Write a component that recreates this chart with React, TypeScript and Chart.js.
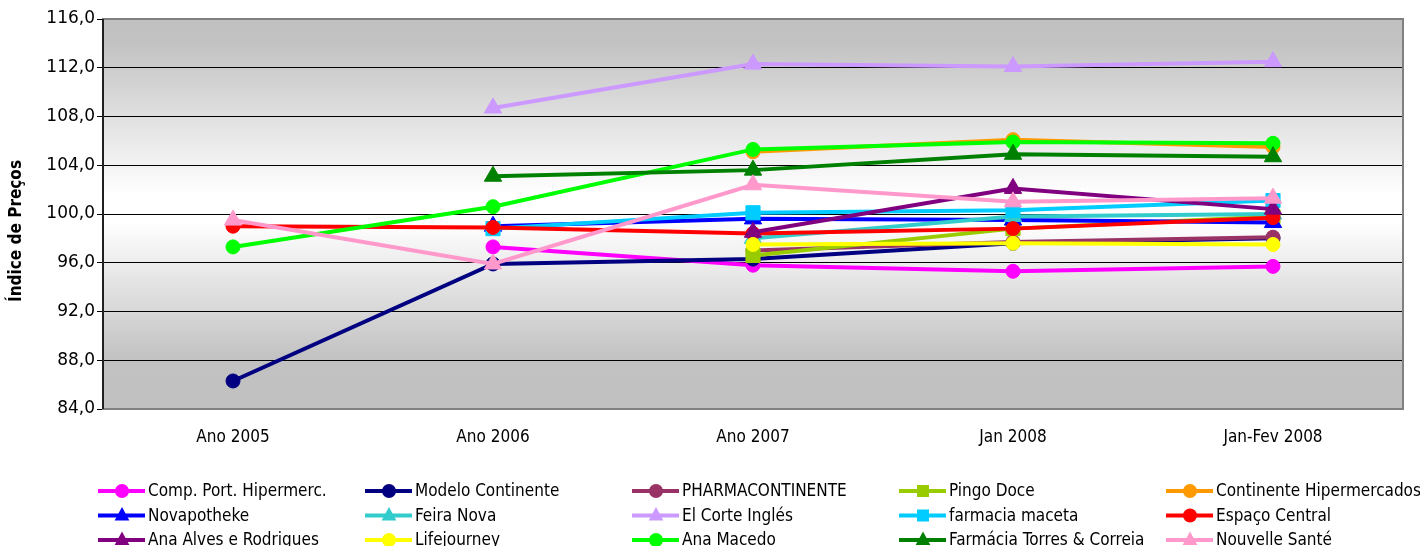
import React, { useEffect, useRef } from "react";
import { Chart, registerables } from "chart.js";

Chart.register(...registerables);

const categories = ["Ano 2005", "Ano 2006", "Ano 2007", "Jan 2008", "Jan-Fev 2008"];

const seriesNames = [
  "Comp. Port. Hipermerc.",
  "Modelo Continente",
  "PHARMACONTINENTE",
  "Pingo Doce",
  "Continente Hipermercados",
  "Novapotheke",
  "Feira Nova",
  "El Corte Inglés",
  "farmacia maceta",
  "Espaço Central",
  "Ana Alves e Rodrigues",
  "Lifejourney",
  "Ana Macedo",
  "Farmácia Torres & Correia",
  "Nouvelle Santé",
];

const compPortHipermerc = [null, 97.3, 95.8, 95.3, 95.7];
const modeloContinente = [86.3, 95.9, 96.3, 97.6, 98.0];
const pharmacontinente = [null, null, 97.0, 97.7, 98.1];
const pingoDoce = [null, null, 96.6, 98.8, 99.8];
const continenteHipermercados = [null, null, 105.1, 106.1, 105.5];
const novapotheke = [null, 99.0, 99.6, 99.5, 99.3];
const feiraNova = [null, null, 98.0, 99.8, 100.0];
const elCorteIngles = [null, 108.7, 112.3, 112.1, 112.5];
const farmaciaMaceta = [null, 98.8, 100.1, 100.3, 101.1];
const espacoCentral = [99.0, 98.9, 98.4, 98.8, 99.7];
const anaAlvesRodrigues = [null, null, 98.5, 102.1, 100.4];
const lifejourney = [null, null, 97.5, 97.6, 97.5];
const anaMacedo = [97.3, 100.6, 105.3, 105.9, 105.8];
const farmaciaTorresCorreia = [null, 103.1, 103.6, 104.9, 104.7];
const nouvelleSante = [99.5, 95.9, 102.4, 101.0, 101.3];

const seriesValues = [
  compPortHipermerc,
  modeloContinente,
  pharmacontinente,
  pingoDoce,
  continenteHipermercados,
  novapotheke,
  feiraNova,
  elCorteIngles,
  farmaciaMaceta,
  espacoCentral,
  anaAlvesRodrigues,
  lifejourney,
  anaMacedo,
  farmaciaTorresCorreia,
  nouvelleSante,
];

const yTicks = [84, 88, 92, 96, 100, 104, 108, 112, 116];
const yTitle = "Índice de Preços";

// styles
const seriesColors = [
  "#ff00ff",
  "#000080",
  "#993366",
  "#99cc00",
  "#ff9900",
  "#0000ff",
  "#33cccc",
  "#cc99ff",
  "#00ccff",
  "#ff0000",
  "#800080",
  "#ffff00",
  "#00ff00",
  "#008000",
  "#ff99cc",
];
const seriesShapes = [
  "circle",
  "circle",
  "circle",
  "rect",
  "circle",
  "triangle",
  "triangle",
  "triangle",
  "rect",
  "circle",
  "triangle",
  "circle",
  "circle",
  "triangle",
  "triangle",
];

const radiusFor = (s: string) => (s === "circle" ? 7 : s === "rect" ? 10 : 10);

const CONDENSED = '"DejaVu Sans Condensed", "DejaVu Sans", sans-serif';

function drawMarker(ctx: CanvasRenderingContext2D, shape: string, x: number, y: number, color: string) {
  ctx.save();
  ctx.fillStyle = color;
  ctx.beginPath();
  if (shape === "circle") {
    ctx.arc(x, y, 7, 0, Math.PI * 2);
  } else if (shape === "rect") {
    ctx.rect(x - 6, y - 6, 12, 12);
  } else {
    const r = 8.5;
    ctx.moveTo(x, y - r);
    ctx.lineTo(x + r * 0.866, y + r * 0.6);
    ctx.lineTo(x - r * 0.866, y + r * 0.6);
    ctx.closePath();
  }
  ctx.fill();
  ctx.restore();
}

const plotBgPlugin = {
  id: "plotBg",
  beforeDraw(chart: any) {
    const { ctx, chartArea: a } = chart;
    const g = ctx.createLinearGradient(0, a.top, 0, a.bottom);
    g.addColorStop(0, "#c0c0c0");
    g.addColorStop(0.06, "#c2c2c2");
    g.addColorStop(0.45, "#ffffff");
    g.addColorStop(0.52, "#ffffff");
    g.addColorStop(0.87, "#c2c2c2");
    g.addColorStop(1, "#c0c0c0");
    ctx.save();
    ctx.fillStyle = g;
    ctx.fillRect(a.left, a.top, a.right - a.left, a.bottom - a.top);
    ctx.restore();
  },
  beforeDatasetsDraw(chart: any) {
    const { ctx, chartArea: a } = chart;
    ctx.save();
    ctx.strokeStyle = "#808080";
    ctx.lineWidth = 2;
    ctx.strokeRect(a.left, a.top, a.right - a.left, a.bottom - a.top);
    ctx.strokeStyle = "#000000";
    ctx.lineWidth = 1.5;
    ctx.beginPath();
    ctx.moveTo(a.left, a.top);
    ctx.lineTo(a.left, a.bottom);
    ctx.stroke();
    ctx.restore();
  },
};

const legendPlugin = {
  id: "gridLegend",
  afterDraw(chart: any) {
    const { ctx } = chart;
    ctx.save();
    // y axis title
    ctx.translate(17, 231);
    ctx.rotate(-Math.PI / 2);
    ctx.font = `bold 17px ${CONDENSED}`;
    ctx.textAlign = "center";
    ctx.textBaseline = "middle";
    ctx.fillStyle = "#000000";
    ctx.fillText(yTitle, 0, 0);
    ctx.restore();

    ctx.save();
    ctx.font = `17px ${CONDENSED}`;
    ctx.textBaseline = "middle";
    ctx.textAlign = "left";
    seriesNames.forEach((name, i) => {
      const col = i % 5;
      const row = Math.floor(i / 5);
      const tx = 148 + col * 267;
      const ty = 491 + row * 24.5;
      ctx.strokeStyle = seriesColors[i];
      ctx.lineWidth = 4;
      ctx.beginPath();
      ctx.moveTo(tx - 50, ty);
      ctx.lineTo(tx - 3, ty);
      ctx.stroke();
      drawMarker(ctx, seriesShapes[i], tx - 26, ty, seriesColors[i]);
      ctx.fillStyle = "#000000";
      ctx.fillText(name, tx, ty + 1);
    });
    ctx.restore();
  },
};

export default function App() {
  const canvasRef = useRef<HTMLCanvasElement | null>(null);

  useEffect(() => {
    if (!canvasRef.current) return;
    const datasets = seriesNames.map((name, i) => ({
      label: name,
      data: seriesValues[i],
      borderColor: seriesColors[i],
      backgroundColor: seriesColors[i],
      pointBackgroundColor: seriesColors[i],
      pointBorderColor: seriesColors[i],
      pointBorderWidth: 1,
      pointStyle: seriesShapes[i],
      pointRadius: radiusFor(seriesShapes[i]),
      borderWidth: 4,
      tension: 0,
      fill: false,
      order: -i,
    }));

    const chart = new Chart(canvasRef.current, {
      type: "line",
      data: { labels: categories, datasets: datasets as any },
      plugins: [plotBgPlugin, legendPlugin],
      options: {
        animation: false,
        responsive: true,
        maintainAspectRatio: false,
        devicePixelRatio: 1,
        layout: { padding: { left: 0, right: 17, top: 19, bottom: 0 } },
        plugins: {
          legend: { display: false },
          tooltip: { enabled: false },
        },
        scales: {
          x: {
            type: "category",
            offset: true,
            grid: { display: false, drawTicks: false },
            border: { display: false },
            ticks: {
              color: "#000000",
              padding: 18,
              font: { family: CONDENSED, size: 17 },
              maxRotation: 0,
            },
            afterFit: (s: any) => {
              s.height = 137;
            },
          },
          y: {
            min: 84,
            max: 116,
            afterBuildTicks: (s: any) => {
              s.ticks = yTicks.map((v) => ({ value: v }));
            },
            grid: {
              color: "#000000",
              lineWidth: 1,
              drawTicks: true,
              tickLength: 6,
              tickColor: "#000000",
            },
            border: { display: false },
            ticks: {
              color: "#000000",
              padding: 2,
              font: { family: "DejaVu Sans", size: 17 },
              callback: (v: any) => Number(v).toFixed(1).replace(".", ","),
            },
            title: { display: false },
            afterFit: (s: any) => {
              s.width = 103;
            },
          },
        },
      },
    });
    return () => chart.destroy();
  }, []);

  return (
    <div style={{ position: "absolute", left: 0, top: 0, width: 1420, height: 546, background: "#ffffff" }}>
      <canvas ref={canvasRef} />
    </div>
  );
}
